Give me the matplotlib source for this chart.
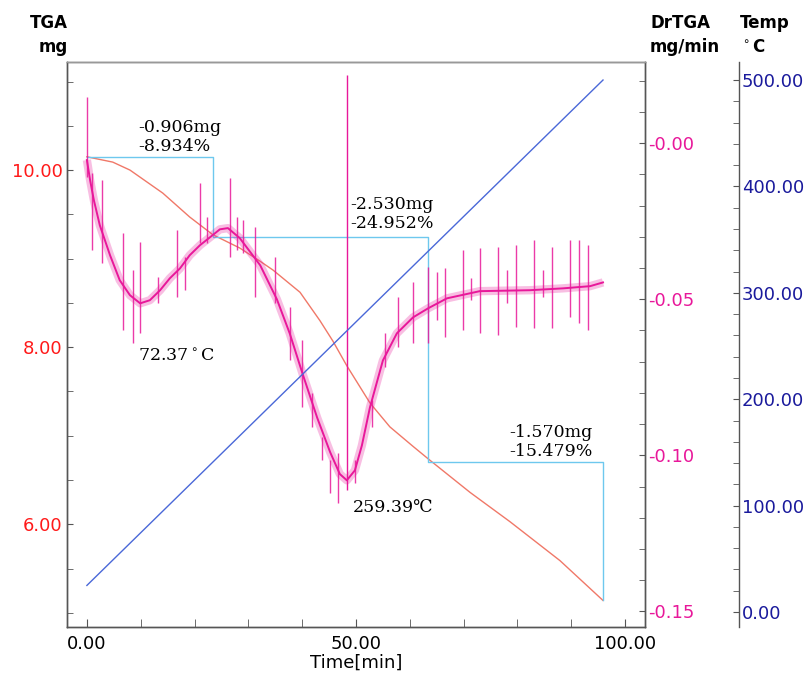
import numpy as np
import matplotlib
matplotlib.use('Agg')
import matplotlib.pyplot as plt
from matplotlib.ticker import MultipleLocator, FixedLocator, FixedFormatter

# TGA mass (mg) vs time (min)
tga_time = [0, 4.8, 8.0, 14.1, 19.1, 23.4, 28.4, 32.2, 34.6, 39.6, 43.3, 45.7, 48.3,
            52.6, 56.3, 60.6, 63.6, 71.2, 78.6, 87.9, 95.9]
tga_mass = [10.15, 10.09, 10.00, 9.74, 9.47, 9.27, 9.12, 8.97, 8.87, 8.62, 8.30, 8.07, 7.79,
            7.37, 7.10, 6.88, 6.73, 6.36, 6.03, 5.59, 5.14]

# DrTGA base curve (mg/min)
dtg_time = [0.0, 0.6, 1.3, 2.4, 4.3, 6.1, 8.0, 9.9, 11.7, 13.6, 15.4, 17.3, 19.1, 21.0,
            22.9, 24.7, 26.2, 28.4, 32.2, 35.3, 37.7, 40.1, 42.8, 45.2, 47.0, 48.3,
            49.8, 51.1, 52.6, 55.0, 57.6, 60.6, 63.4, 66.9, 73.0, 82.3, 88.5, 93.5, 95.9]
dtg_rate = [-0.0054, -0.0119, -0.0183, -0.0263, -0.0359, -0.0439, -0.0487, -0.0513,
            -0.0503, -0.0471, -0.0433, -0.0401, -0.0359, -0.0327, -0.0301, -0.0276,
            -0.0272, -0.0304, -0.0391, -0.0500, -0.0610, -0.0740, -0.0880, -0.0990,
            -0.1060, -0.1080, -0.1048, -0.0968, -0.0846, -0.0696, -0.0609, -0.0558,
            -0.0529, -0.0497, -0.0474, -0.0471, -0.0465, -0.0458, -0.0446]

# noise spikes on the DrTGA trace
spike_time = [0.0, 0.9, 2.8, 6.7, 8.6, 9.9, 13.2, 16.7, 18.2, 21.0, 22.3, 26.6, 27.9,
              29.0, 31.2, 34.9, 37.7, 40.0, 41.8, 43.7, 45.2, 46.7, 49.8, 53.0, 55.4,
              57.8, 60.6, 63.4, 65.1, 66.5, 69.9, 71.4, 73.0, 76.4, 78.1, 79.7, 83.1,
              84.8, 86.4, 89.8, 91.4, 93.1]
spike_hi = [0.0147, -0.0096, -0.0119, -0.0288, -0.0407, -0.0317, -0.0429, -0.0279,
            -0.0365, -0.0128, -0.0237, -0.0112, -0.0237, -0.0247, -0.0269, -0.0365,
            -0.0526, -0.0631, -0.0801, -0.0942, -0.1016, -0.0994, -0.1016, -0.0824,
            -0.0609, -0.0494, -0.0446, -0.0397, -0.0413, -0.0401, -0.0343, -0.0433,
            -0.0337, -0.0333, -0.0407, -0.0327, -0.0311, -0.0407, -0.0333, -0.0311,
            -0.0311, -0.0327]
spike_lo = [-0.0109, -0.0343, -0.0385, -0.0599, -0.0641, -0.0609, -0.0513, -0.0494,
            -0.0471, -0.0321, -0.0321, -0.0365, -0.0343, -0.0353, -0.0494, -0.0513,
            -0.0696, -0.0846, -0.0910, -0.1016, -0.1122, -0.1154, -0.1090, -0.0910,
            -0.0718, -0.0654, -0.0641, -0.0641, -0.0567, -0.0622, -0.0599, -0.0503,
            -0.0609, -0.0615, -0.0513, -0.0590, -0.0593, -0.0494, -0.0593, -0.0558,
            -0.0577, -0.0599]

# DrTGA peak marker
peak_time = 48.3
peak_top = 0.0218
peak_bottom = -0.111

# temperature program
temp_time = [0, 95.9]
temp_val = [25, 500]

# weight-loss step lines
step_time = [0, 23.4, 63.3, 95.9]
step_mass = [10.15, 9.24, 6.70, 5.14]

loss_labels = ['-0.906mg\n-8.934%', '-2.530mg\n-24.952%', '-1.570mg\n-15.479%']
loss_pos = [(9.5, 10.37), (48.9, 9.50), (78.4, 6.93)]
peak_labels = ['72.37$^\\circ$C', '259.39℃']
peak_pos = [(9.5, 7.90), (49.4, 6.19)]

red = '#ff1a1a'
mag = '#e8189a'
navy = '#1a1a9c'
spine_c = '#555555'

fig = plt.figure(figsize=(8.11, 6.84), dpi=100)
fig.patch.set_facecolor('white')
ax = fig.add_axes([0.0826, 0.0833, 0.7127, 0.826])
ax2 = ax.twinx()
ax3 = ax.twinx()
ax3.spines['right'].set_position(('axes', 1.163))

# TGA
ax.plot(tga_time, tga_mass, color='#f07868', lw=1.0)
step_x = np.repeat(step_time, 2)[1:]
step_y = np.repeat(step_mass, 2)[:-1]
ax.plot(step_x, step_y, color='#6ec8ee', lw=1.0)
ax.set_xlim(-3.7, 103.7)
ax.set_ylim(4.84, 11.22)

# DrTGA
ax2.plot(dtg_time, dtg_rate, color=mag, lw=6, alpha=0.28, solid_capstyle='butt')
ax2.plot(dtg_time, dtg_rate, color=mag, lw=1.4)
ax2.vlines(spike_time, spike_lo, spike_hi, color=mag, lw=1.0, alpha=0.85)
ax2.vlines([peak_time], [peak_bottom], [peak_top], color=mag, lw=1.0)
ax2.set_ylim(-0.155, 0.026)

# Temp
ax3.plot(temp_time, temp_val, color='#4a68d8', lw=1.0)
ax3.set_ylim(-14.1, 516.9)

for (x, y), s in zip(loss_pos, loss_labels):
    ax.text(x, y, s, fontsize=12.5, family=['DejaVu Serif', 'Noto Sans CJK JP'],
            va='center', ha='left', linespacing=1.15)
for (x, y), s in zip(peak_pos, peak_labels):
    ax.text(x, y, s, fontsize=12.5, family=['DejaVu Serif', 'Noto Sans CJK JP'],
            va='center', ha='left')

# axes styling
for a in (ax, ax2, ax3):
    for sp in a.spines.values():
        sp.set_color(spine_c)
        sp.set_linewidth(1.0)
ax3.spines['left'].set_visible(False)
ax3.spines['top'].set_visible(False)
ax3.spines['bottom'].set_visible(False)
ax2.spines['top'].set_color('#999999')

ax.xaxis.set_major_locator(FixedLocator([0, 50, 100]))
ax.xaxis.set_major_formatter(FixedFormatter(['0.00', '50.00', '100.00']))
ax.xaxis.set_minor_locator(MultipleLocator(10))
ax.tick_params(axis='x', which='both', direction='in', length=6, color=spine_c,
               labelsize=13, pad=6)
ax.set_xlabel('Time[min]', fontsize=13, labelpad=0)

ax.yaxis.set_major_locator(FixedLocator([6, 8, 10]))
ax.yaxis.set_major_formatter(FixedFormatter(['6.00', '8.00', '10.00']))
ax.yaxis.set_minor_locator(MultipleLocator(0.5))
ax.tick_params(axis='y', which='both', direction='in', length=4, color=spine_c,
               labelsize=13, labelcolor=red, pad=3)

ax2.yaxis.set_major_locator(FixedLocator([0, -0.05, -0.10, -0.15]))
ax2.yaxis.set_major_formatter(FixedFormatter(['-0.00', '-0.05', '-0.10', '-0.15']))
ax2.yaxis.set_minor_locator(MultipleLocator(0.01))
ax2.tick_params(axis='y', which='both', direction='in', length=4, color=spine_c,
                labelsize=13, labelcolor=mag, pad=2)

ax3.yaxis.set_major_locator(FixedLocator([0, 100, 200, 300, 400, 500]))
ax3.yaxis.set_major_formatter(FixedFormatter(['0.00', '100.00', '200.00', '300.00', '400.00', '500.00']))
ax3.yaxis.set_minor_locator(MultipleLocator(20))
ax3.tick_params(axis='y', which='both', direction='in', length=4, color=spine_c,
                labelsize=13, labelcolor=navy, pad=2)

# axis headers
W, H = 811, 684
hdr = dict(fontsize=12, fontweight='bold', va='center')
fig.text(68 / W, 1 - 23 / H, 'TGA', ha='right', **hdr)
fig.text(68 / W, 1 - 47 / H, 'mg', ha='right', **hdr)
fig.text(650 / W, 1 - 23 / H, 'DrTGA', ha='left', **hdr)
fig.text(650 / W, 1 - 47 / H, 'mg/min', ha='left', **hdr)
fig.text(740 / W, 1 - 23 / H, 'Temp', ha='left', **hdr)
fig.text(740 / W, 1 - 47 / H, '$^\\circ$C', ha='left', **hdr)

fig.savefig('out.png', dpi=100, facecolor='white')
